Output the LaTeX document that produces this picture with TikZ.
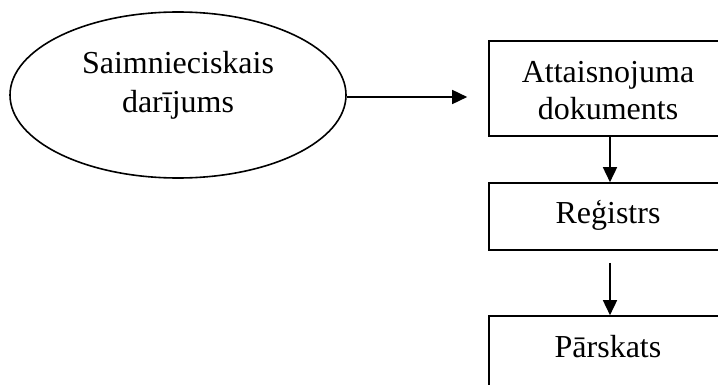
\documentclass[tikz,border=0pt]{standalone}
\usepackage{fontspec}
\setmainfont{Liberation Serif}
\usetikzlibrary{arrows.meta,shapes.geometric}
\begin{document}
\begin{tikzpicture}[x=1pt,y=-1pt,
  line width=1.6pt,
  txt/.style={font=\fontsize{32}{38}\selectfont, align=center, inner sep=0pt},
  oval/.style={draw, ellipse, minimum width=336pt, minimum height=166pt, inner sep=0pt},
  boxn/.style={draw, rectangle, minimum width=242pt, inner sep=0pt},
  conn/.style={-{Triangle[length=15pt,width=14pt]}, line width=1.6pt}]
\useasboundingbox (0,0) rectangle (718,385);
\clip (0,0) rectangle (718,385);
\node[oval] (e) at (178,95) {};
\node[txt, anchor=base] (et1) at (178,74) {Saimnieciskais};
\node[txt, anchor=base] (et2) at (178,113) {darījums};
\node[boxn, minimum height=95pt] (b1) at (610,88.5) {};
\node[txt, anchor=base] (b1t1) at (608,83) {Attaisnojuma};
\node[txt, anchor=base] (b1t2) at (608,120) {dokuments};
\node[boxn, minimum height=67pt] (b2) at (610,216.5) {};
\node[txt, anchor=base] (b2t) at (608,223) {Reģistrs};
\node[boxn, minimum height=95pt] (b3) at (610,363.5) {};
\node[txt, anchor=base] (b3t) at (608,357) {Pārskats};
\draw[conn, shorten >=21pt] (e.east |- 0,97) -- (b1.west |- 0,97);
\draw[conn] (b1.south) -- (b2.north);
\draw[conn, shorten <=12pt] (b2.south) -- (b3.north);
\end{tikzpicture}
\end{document}
